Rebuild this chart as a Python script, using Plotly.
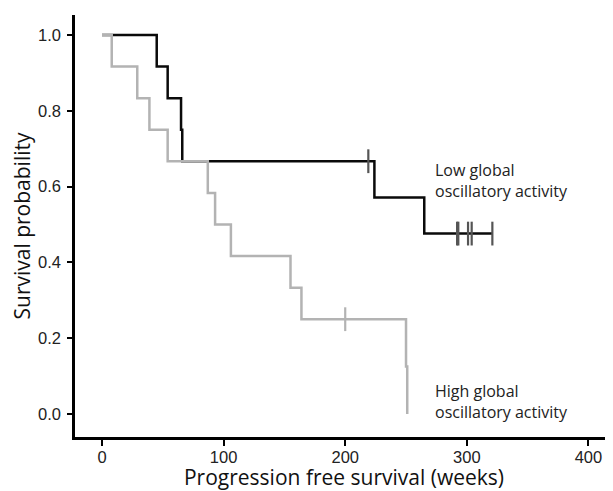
import plotly.graph_objects as go

# Kaplan-Meier step data (weeks, survival probability)
low_times = [0, 45, 54, 65, 66, 224, 265, 321]
low_surv = [1.0, 0.917, 0.833, 0.75, 0.667, 0.571, 0.476, 0.476]
low_censor_times = [219, 292, 293, 301, 304, 321]
low_censor_surv = [0.667, 0.476, 0.476, 0.476, 0.476, 0.476]

high_times = [0, 8, 29, 39, 54, 87, 93, 106, 155, 164, 250, 251]
high_surv = [1.0, 0.917, 0.833, 0.75, 0.667, 0.583, 0.5, 0.417, 0.333, 0.25, 0.125, 0.0]
high_censor_times = [200]
high_censor_surv = [0.25]

x_ticks = [0, 100, 200, 300, 400]
y_ticks = [0.0, 0.2, 0.4, 0.6, 0.8, 1.0]
y_tick_labels = ["0.0", "0.2", "0.4", "0.6", "0.8", "1.0"]

BLACK = "#0a0a0a"
GRAY = "#b3b3b3"
CENSOR_DARK = "#555555"

fig = go.Figure()
fig.add_trace(go.Scatter(x=low_times, y=low_surv, mode="lines",
                         line=dict(color=BLACK, width=2.5, shape="hv"),
                         showlegend=False, hoverinfo="skip"))
fig.add_trace(go.Scatter(x=low_censor_times, y=low_censor_surv, mode="markers",
                         marker=dict(symbol="line-ns", size=17,
                                     line=dict(color=CENSOR_DARK, width=2.2)),
                         showlegend=False, hoverinfo="skip"))
fig.add_trace(go.Scatter(x=high_times, y=high_surv, mode="lines",
                         line=dict(color=GRAY, width=2.5, shape="hv"),
                         showlegend=False, hoverinfo="skip"))
fig.add_trace(go.Scatter(x=high_censor_times, y=high_censor_surv, mode="markers",
                         marker=dict(symbol="line-ns", size=17,
                                     line=dict(color=GRAY, width=2.2)),
                         showlegend=False, hoverinfo="skip"))

ann_font = dict(family="Open Sans, sans-serif", size=16, color="#222222")
fig.add_annotation(x=272, y=0.617, xref="x", yref="y", xanchor="left", yanchor="middle",
                   text="Low global<br>oscillatory activity", showarrow=False,
                   align="left", font=ann_font)
fig.add_annotation(x=272, y=0.034, xref="x", yref="y", xanchor="left", yanchor="middle",
                   text="High global<br>oscillatory activity", showarrow=False,
                   align="left", font=ann_font)

tick_font = dict(family="Liberation Sans, Arial, sans-serif", size=16.5, color="#222222")
title_font = dict(family="Open Sans, sans-serif", size=21, color="#111111")

# The page body has an 8px margin, so the figure is laid out 8px smaller.
fig.update_layout(
    width=605, height=483,
    margin=dict(l=67, r=0, t=7, b=54, autoexpand=False),
    paper_bgcolor="white", plot_bgcolor="white",
    xaxis=dict(range=[-22.2, 420.2], tickvals=x_ticks, ticks="outside", ticklen=6,
               tickwidth=1.5, tickcolor="black", showline=True, linecolor="black",
               linewidth=2.5, showgrid=False, zeroline=False, tickfont=tick_font,
               automargin=False, ticklabelstandoff=-3,
               title=dict(text="Progression free survival (weeks)", font=title_font,
                          standoff=0)),
    yaxis=dict(range=[-0.061, 1.053], tickvals=y_ticks, ticktext=y_tick_labels,
               ticks="outside", ticklen=5, tickwidth=1.5, tickcolor="black",
               showline=True, linecolor="black", linewidth=2.5, showgrid=False,
               zeroline=False, tickfont=tick_font, automargin=False,
               ticklabelstandoff=3,
               title=dict(text="Survival probability", font=title_font, standoff=8)),
)

fig.write_html("out.html")
